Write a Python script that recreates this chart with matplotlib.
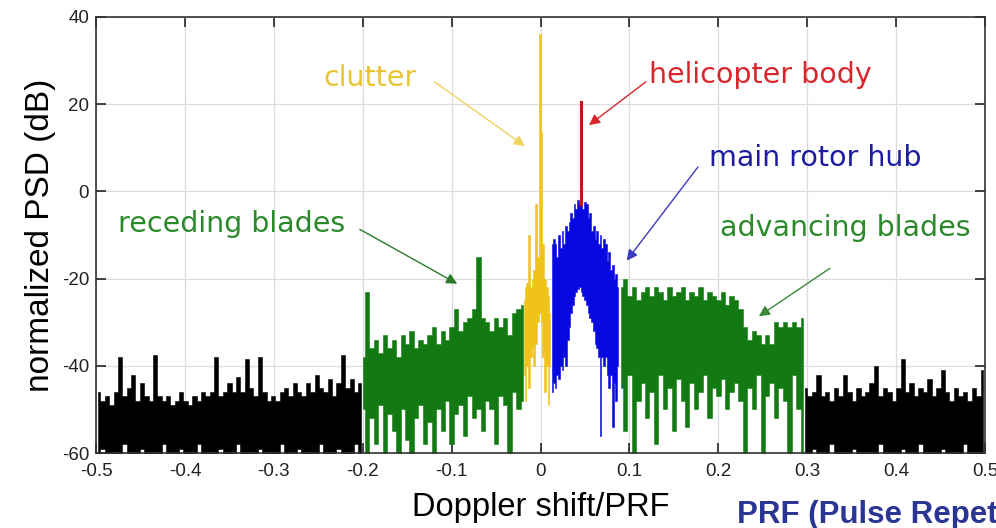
import numpy as np
import matplotlib
matplotlib.use("Agg")
import matplotlib.pyplot as plt

plt.rcParams['axes.unicode_minus'] = False

# --- data (dB), upper / lower excursion per frequency bin ---
noise_left_top = [-46, -48, -47, -49, -46, -38, -47, -45, -42, -48, -44, -47, -48, -37.5, -47, -48,
                  -47, -49, -48, -46, -48, -49, -47, -48, -46, -47, -46, -38, -47, -46, -44, -46,
                  -42.5, -46, -38.5, -45, -47, -38, -46, -48, -47, -48, -46, -45, -47, -44, -46,
                  -47, -44, -46, -42, -45, -46, -43, -47, -44, -37.5, -45, -43, -46, -44]
noise_left_bot = [-62, -59, -63, -60, -64, -61, -58, -63, -60, -62, -59, -64, -61, -60, -63, -58,
                  -62, -60, -64, -59, -61, -63, -60, -58, -62, -64, -60, -61, -59, -63, -62, -60,
                  -58, -64, -61, -60, -62, -59, -63, -60, -61, -64, -58, -62, -60, -63, -59, -61,
                  -64, -60, -62, -58, -63, -61, -60, -59, -64, -62, -60, -58, -63]

receding_top = [-38, -23, -36, -34, -37, -33, -36, -34, -38, -33, -35, -32, -36, -34, -35, -33,
                -31, -35, -32, -34, -31, -27, -32, -30, -29, -27, -15, -29, -30, -32, -29, -31,
                -29, -33, -28, -27, -26]
receding_bot = [-50, -60, -52, -58, -49, -62, -51, -55, -60, -50, -57, -61, -52, -49, -58, -53,
                -60, -50, -55, -48, -58, -51, -49, -56, -47, -52, -50, -55, -48, -50, -58, -47,
                -49, -60, -46, -50, -48]

clutter_top = [-25, -22, -21, -10, -22, -20, -18, -3, -15, 36, 13.5, -12, -20, -22, -24, -28]
clutter_bot = [-42, -48, -40, -45, -38, -36, -40, -35, -30, -28, -30, -38, -46, -40, -49, -40]

hub_top = [-12, -11, -12, -15, -10, -13, -9, -12, -8, -9, -7, -5, -6, -3, -4, -2, -3, -2, -4,
           -2.5, -3, -6, -5, -9, -8, -11, -9, -12, -10, -13, -11, -12, -16, -14, -18, -17, -20,
           -19, -22]
hub_bot = [-46, -44, -45, -42, -43, -40, -41, -38, -40, -34, -31, -28, -26, -24, -23, -22.5, -22,
           -23, -24, -25, -26, -28, -29, -30, -32, -35, -36, -38, -56, -38, -40, -38, -42, -45,
           -42, -54, -44, -48, -40]

body_freq = 0.046
body_peak = 20.5

advancing_top = [-22, -20, -24, -22, -25, -23, -22, -24, -22, -23, -25, -22, -24, -23, -22, -25,
                 -23, -24, -22, -25, -23, -24, -25, -23, -26, -24, -25, -27, -31, -34, -32, -33,
                 -35, -33, -35, -30, -31, -30, -31, -30, -31, -29]
advancing_bot = [-45, -55, -42, -60, -48, -44, -52, -46, -58, -42, -50, -45, -55, -43, -48, -54,
                 -44, -50, -46, -42, -52, -45, -47, -43, -50, -46, -44, -48, -60, -45, -50, -42,
                 -60, -47, -44, -52, -45, -48, -60, -42, -50, -60]

noise_right_top = [-45, -47, -46, -42, -47, -46, -48, -45, -47, -42, -46, -48, -45, -47, -46, -44,
                   -40, -47, -45, -46, -48, -45, -38.5, -46, -44, -47, -45, -46, -43, -47, -45, -41,
                   -46, -48, -45, -47, -46, -48, -45, -47, -41]
noise_right_bot = [-61, -63, -59, -62, -60, -64, -58, -62, -61, -63, -60, -59, -64, -62, -60, -61,
                   -63, -58, -62, -60, -64, -61, -59, -63, -60, -62, -58, -64, -61, -60, -63, -59,
                   -62, -60, -64, -61, -58, -63, -60, -62, -61]

segments = [
    (-0.4975, -0.2025, noise_left_top, noise_left_bot, 'black'),
    (-0.2000, -0.0200, receding_top, receding_bot, '#137a13'),
    (-0.0190, 0.0110, clutter_top, clutter_bot, '#f0c31c'),
    (0.0130, 0.0870, hub_top, hub_bot, '#0808e0'),
    (0.0900, 0.2950, advancing_top, advancing_bot, '#137a13'),
    (0.2975, 0.4975, noise_right_top, noise_right_bot, 'black'),
]

fig = plt.figure(figsize=(9.96, 5.28), dpi=100)
ax = fig.add_axes([0.0964, 0.142, 0.8926, 0.826])

for f0, f1, top, bot, col in segments:
    f = np.linspace(f0, f1, len(top))
    ax.fill_between(f, bot, top, step='mid', color=col, lw=0.4)

# helicopter body line
ax.plot([body_freq, body_freq], [-3, body_peak], color='#c01818', lw=2.2)

ax.set_xlim(-0.5, 0.5)
ax.set_ylim(-60, 40)
ax.set_xticks(np.arange(-0.5, 0.51, 0.1))
ax.set_xticklabels(['-0.5', '-0.4', '-0.3', '-0.2', '-0.1', '0', '0.1', '0.2', '0.3', '0.4', '0.5'])
ax.set_yticks([-60, -40, -20, 0, 20, 40])
ax.tick_params(direction='in', length=7, width=1.2, top=True, right=True,
               labelsize=13.5, colors='#222222')
ax.tick_params(axis='x', pad=7)
ax.tick_params(axis='y', pad=5)
for lab in ax.get_xticklabels() + ax.get_yticklabels():
    lab.set_family('Liberation Sans')
ax.grid(color='#dcdcdc', lw=0.9)
ax.set_axisbelow(True)
for s in ax.spines.values():
    s.set_color('#333333')
    s.set_linewidth(1.2)

ax.set_xlabel('Doppler shift/PRF', fontsize=23.5, family='Liberation Sans', labelpad=9)
ax.set_ylabel('normalized PSD (dB)', fontsize=24, family='Liberation Sans', labelpad=4)

notes = [
    ('clutter', (-0.192, 26.0), (-0.122, 25.5), (-0.015, 10.0), '#e8c531', '#f0d35a'),
    ('helicopter body', (0.247, 26.7), (0.121, 25.5), (0.052, 14.8), '#d8262c', '#d8262c'),
    ('main rotor hub', (0.309, 7.7), (0.179, 6.1), (0.095, -16.4), '#1c1ca0', '#3a3ac0'),
    ('receding blades', (-0.347, -7.5), (-0.206, -8.4), (-0.091, -21.5), '#2a8a2a', '#2a7a2a'),
    ('advancing blades', (0.343, -8.4), (0.328, -17.3), (0.243, -29.0), '#2a8a2a', '#3a8a3a'),
]
for txt, pos, a0, a1, tc, ac in notes:
    ax.text(pos[0], pos[1], txt, color=tc, fontsize=20.5, ha='center', va='center',
            family='DejaVu Sans')
    ax.annotate('', xy=a1, xytext=a0,
                arrowprops=dict(arrowstyle='-|>', color=ac, lw=1.0, mutation_scale=16))

fig.text(737 / 996, 1 - 523 / 528, 'PRF (Pulse Repetition Frequency)', color='#2b3593',
         fontsize=22.5, fontweight='bold', family='Liberation Sans', va='baseline', ha='left')

fig.savefig('out.png', dpi=100)
